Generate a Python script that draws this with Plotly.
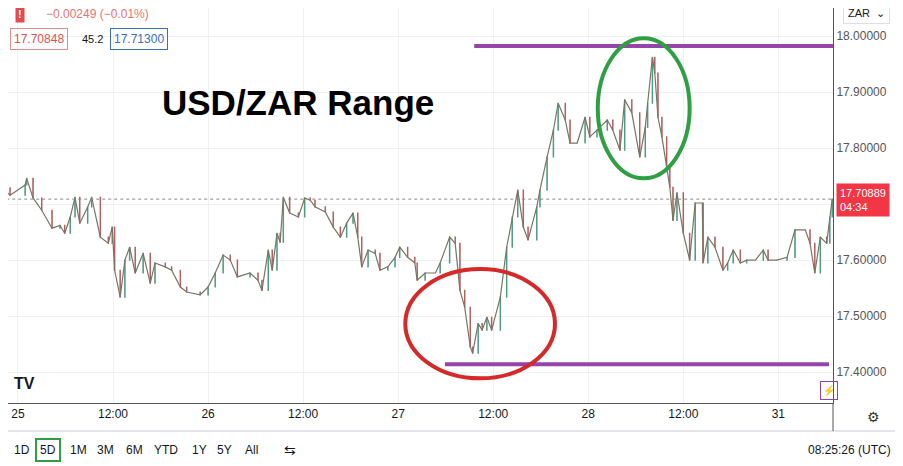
import plotly.graph_objects as go

hours = [-2.0,-1.0,0.9,1.1,1.9,3.0,4.3,5.3,5.9,6.6,7.2,7.8,8.8,9.3,10.4,11.4,11.9,12.2,12.9,13.5,14.1,14.8,15.8,16.7,17.3,18.6,19.4,20.5,21.3,23.0,24.0,24.9,25.9,26.8,27.7,29.3,30.3,30.8,31.6,32.1,32.7,33.1,33.5,34.3,35.4,36.2,36.9,37.5,38.8,39.8,40.7,41.5,42.3,42.9,43.4,44.2,45.1,45.7,46.7,47.6,48.2,49.2,50.1,50.4,51.4,52.7,53.3,54.5,55.2,55.8,56.4,57.1,57.4,58.1,58.6,59.2,59.8,60.9,61.7,62.4,63.1,63.8,64.4,65.5,65.9,66.8,67.6,68.2,69.1,69.7,70.6,71.6,72.2,73.1,74.4,75.1,76.0,76.6,77.5,78.5,79.2,79.5,80.1,80.4,80.8,81.3,81.9,82.3,82.7,83.2,84.0,84.8,85.5,86.4,86.5,87.1,88.0,89.0,89.6,90.3,91.2,92.0,93.1,94.1,94.7,95.8,97.1,98.1,99.4,100.0,100.6,101.3,102.1,102.5,102.8]
closes = [17.729,17.716,17.734,17.746,17.711,17.689,17.657,17.662,17.648,17.677,17.712,17.666,17.695,17.712,17.641,17.630,17.659,17.582,17.534,17.600,17.623,17.577,17.612,17.559,17.595,17.588,17.582,17.552,17.543,17.538,17.552,17.577,17.609,17.600,17.570,17.577,17.564,17.546,17.618,17.582,17.648,17.632,17.712,17.684,17.677,17.711,17.707,17.695,17.686,17.659,17.641,17.666,17.684,17.641,17.588,17.618,17.612,17.582,17.588,17.605,17.623,17.605,17.595,17.564,17.577,17.577,17.595,17.641,17.630,17.546,17.516,17.445,17.434,17.487,17.475,17.498,17.475,17.534,17.623,17.677,17.725,17.659,17.636,17.695,17.725,17.784,17.832,17.880,17.850,17.809,17.809,17.855,17.820,17.832,17.850,17.832,17.796,17.886,17.863,17.784,17.837,17.880,17.962,17.934,17.855,17.820,17.766,17.730,17.671,17.720,17.648,17.600,17.702,17.702,17.595,17.641,17.623,17.582,17.595,17.618,17.595,17.600,17.600,17.618,17.600,17.600,17.605,17.654,17.654,17.630,17.577,17.641,17.630,17.677,17.709]
tick_vals = [0, 12, 24, 36, 48, 60, 72, 84, 96]
tick_text = ["25", "12:00", "26", "12:00", "27", "12:00", "28", "12:00", "31"]
resistance = 17.982
support = 17.414
last_price = 17.70889

opens = [closes[0]] + closes[:-1]
highs = [max(o, c) for o, c in zip(opens, closes)]
lows = [min(o, c) for o, c in zip(opens, closes)]

fig = go.Figure()
fig.add_trace(go.Scatter(x=hours, y=closes, mode="lines", line=dict(color="#7a7466", width=1.2), hoverinfo="skip"))
fig.add_trace(go.Candlestick(x=hours, open=opens, high=highs, low=lows, close=closes,
    increasing=dict(line=dict(color="#4f9a82", width=1.1), fillcolor="#4f9a82"),
    decreasing=dict(line=dict(color="#b0605f", width=1.1), fillcolor="#b0605f")))

purple = "#9345a8"
fig.add_shape(type="line", x0=57.6, x1=104, y0=resistance, y1=resistance, line=dict(color=purple, width=4))
fig.add_shape(type="line", x0=53.9, x1=102.4, y0=support, y1=support, line=dict(color=purple, width=4))
fig.add_shape(type="line", x0=-3, x1=104, y0=last_price, y1=last_price, line=dict(color="#888", width=1, dash="dot"))
fig.add_shape(type="circle", x0=48.9, x1=67.8, y0=17.389, y1=17.584, line=dict(color="#d42a2a", width=4))
fig.add_shape(type="circle", x0=73.2, x1=84.8, y0=17.746, y1=17.996, line=dict(color="#2ea043", width=4))

def px(X):
    return (X - 8) / 825

def py(Y):
    return (403 - Y) / 395

fig.add_annotation(x=px(160), y=py(103), xref="paper", yref="paper", text="<b>USD/ZAR Range</b>",
                   showarrow=False, xanchor="left", yanchor="middle",
                   font=dict(size=35, color="black", family="Liberation Sans"))

def ptext(x, y, t, **kw):
    font = dict(size=kw.pop("size", 12), color=kw.pop("color", "#131722"), family="Liberation Sans")
    fig.add_annotation(x=px(x), y=py(y), xref="paper", yref="paper", text=t, showarrow=False,
                       xanchor=kw.pop("xanchor", "left"), yanchor="middle", font=font, **kw)

ptext(15, 14, "<b>!</b>", color="white", bgcolor="#e5484d", size=11, borderpad=2)
ptext(44, 14, "−0.00249 (−0.01%)", color="#e57373")
ptext(10, 39, "17.70848", color="#d9534f", bordercolor="#e58b8b", borderpad=3)
ptext(80, 39, "45.2", size=11)
ptext(110, 39, "17.71300", color="#3b6fb6", bordercolor="#3b6fb6", borderpad=3)
ptext(843, 13, "ZAR  ⌄", size=11, bordercolor="#dde", borderpad=4)
ptext(836, 200, "17.70889<br>04:34", color="white", bgcolor="#f23645", size=11, borderpad=3, align="left")
ptext(12, 383, "<b>TV</b>", size=16)
ptext(820, 390, "⚡", color="#8e44ad", size=10, bordercolor="#8e44ad", borderpad=2)
ptext(873, 417, "⚙", color="#333", xanchor="center", size=14)
items = ["1D", "5D", "1M", "3M", "6M", "YTD", "1Y", "5Y", "All"]
xs = [22, 48, 78, 105, 134, 166, 199, 224, 251]
for t, x in zip(items, xs):
    if t == "5D":
        ptext(x, 450, t, xanchor="center", bordercolor="#2ea043", borderwidth=2, borderpad=3)
    else:
        ptext(x, 450, t, xanchor="center")
ptext(290, 450, "⇆", size=14, xanchor="center")
ptext(893, 450, "08:25:26 (UTC)", xanchor="right")
fig.add_shape(type="line", xref="paper", yref="paper", x0=px(8), x1=px(903), y0=py(431), y1=py(431), line=dict(color="#c8cad0", width=1))
fig.add_shape(type="line", xref="paper", yref="paper", x0=1, x1=1, y0=py(403), y1=py(431), line=dict(color="#555", width=1))

fig.update_layout(width=903, height=466, margin=dict(l=0, r=78, t=0, b=71), showlegend=False,
    plot_bgcolor="white", paper_bgcolor="white", font=dict(family="Liberation Sans", size=12, color="#131722"),
    xaxis=dict(range=[-1.26, 102.9], tickvals=tick_vals, ticktext=tick_text, showgrid=True, gridcolor="#eef0f4",
               rangeslider=dict(visible=False), showline=True, linecolor="#555", zeroline=False, ticks=""),
    yaxis=dict(side="right", range=[17.345, 18.05], tickvals=[17.4, 17.5, 17.6, 17.7, 17.8, 17.9, 18.0],
               ticktext=["17.40000", "17.50000", "17.60000", "", "17.80000", "17.90000", "18.00000"],
               showgrid=True, gridcolor="#eef0f4", showline=True, linecolor="#555",
               zeroline=False, ticks="", tickfont=dict(color="#555")))
fig.write_html("out.html")
